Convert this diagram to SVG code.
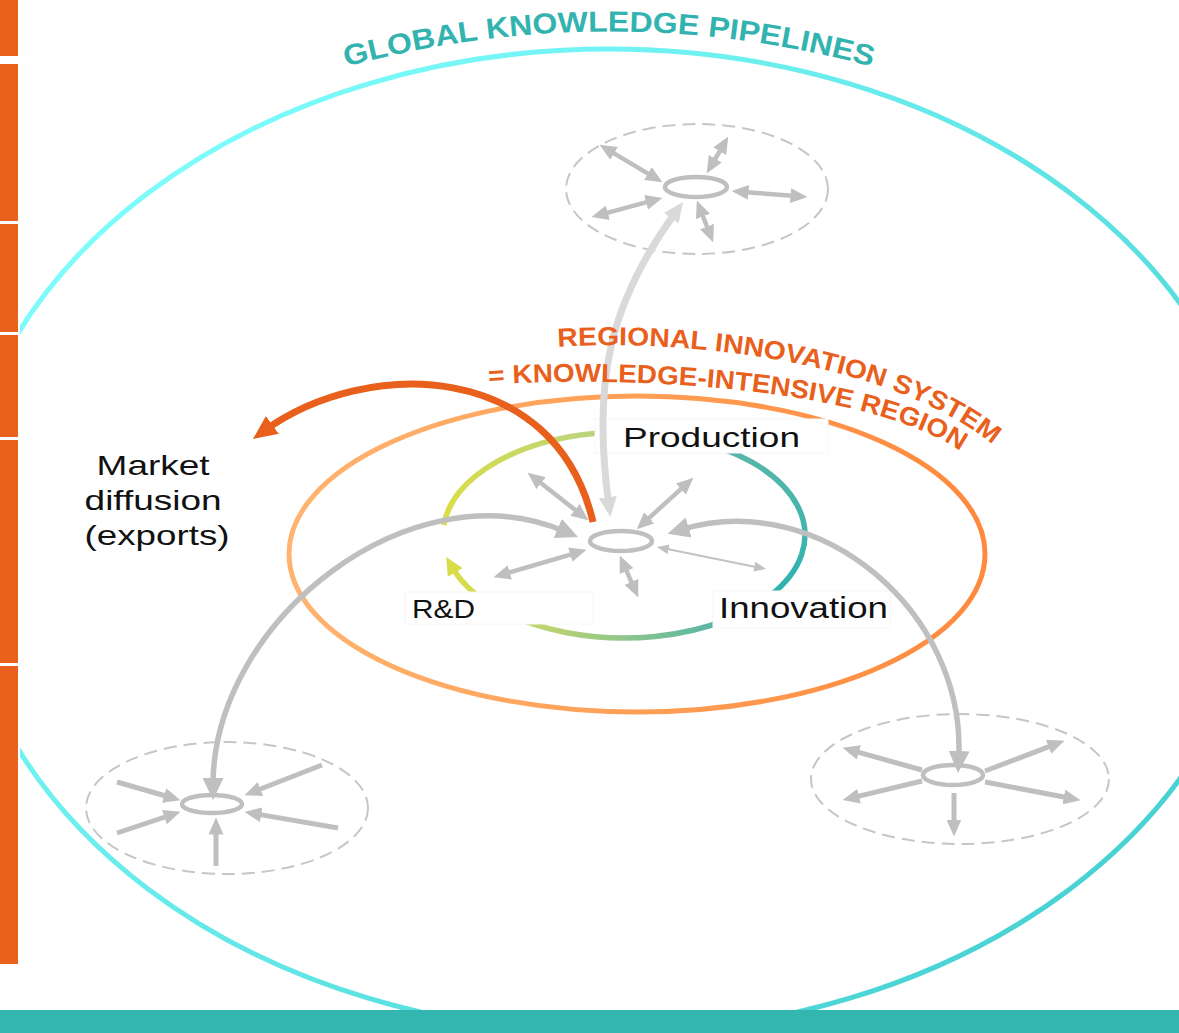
<svg xmlns="http://www.w3.org/2000/svg" width="1179" height="1033" viewBox="0 0 1179 1033">
  <defs>
    <linearGradient id="gPipe" gradientUnits="userSpaceOnUse" x1="100" y1="100" x2="1100" y2="1000">
      <stop offset="0" stop-color="#82ffff"/>
      <stop offset="1" stop-color="#44cfd0"/>
    </linearGradient>
    <linearGradient id="gRegion" gradientUnits="userSpaceOnUse" x1="289" y1="0" x2="985" y2="0">
      <stop offset="0" stop-color="#ffb470"/>
      <stop offset="1" stop-color="#ff893c"/>
    </linearGradient>
    <linearGradient id="gRD" gradientUnits="userSpaceOnUse" x1="443" y1="0" x2="608" y2="0">
      <stop offset="0" stop-color="#dadd48"/>
      <stop offset="1" stop-color="#b6d384"/>
    </linearGradient>
    <linearGradient id="gProd" gradientUnits="userSpaceOnUse" x1="0" y1="438" x2="0" y2="595">
      <stop offset="0" stop-color="#5cb7a6"/>
      <stop offset="1" stop-color="#2fb2b1"/>
    </linearGradient>
    <linearGradient id="gInno" gradientUnits="userSpaceOnUse" x1="452" y1="0" x2="728" y2="0">
      <stop offset="0" stop-color="#dadd48"/>
      <stop offset="0.35" stop-color="#bcd374"/>
      <stop offset="1" stop-color="#4fb4a9"/>
    </linearGradient>
    <clipPath id="clipStage"><rect x="20" y="0" width="1159" height="1010"/></clipPath>

    <!-- arrowheads -->
    <marker id="hs" viewBox="0 0 17 15" refX="5.5" refY="7.5" markerWidth="17" markerHeight="15" markerUnits="userSpaceOnUse" orient="auto-start-reverse">
      <path d="M0,0 L17,7.5 L0,15 z" fill="#bfbfbf"/>
    </marker>
    <marker id="ht" viewBox="0 0 12 10" refX="4" refY="5" markerWidth="12" markerHeight="10" markerUnits="userSpaceOnUse" orient="auto-start-reverse">
      <path d="M0,0 L12,5 L0,10 z" fill="#c2c2c2"/>
    </marker>
    <marker id="hl" viewBox="0 0 22 21" refX="7" refY="10.5" markerWidth="22" markerHeight="21" markerUnits="userSpaceOnUse" orient="auto-start-reverse">
      <path d="M0,0 L22,10.5 L0,21 z" fill="#bfbfbf"/>
    </marker>
    <marker id="hlg" viewBox="0 0 20 18" refX="6" refY="9" markerWidth="20" markerHeight="18" markerUnits="userSpaceOnUse" orient="auto-start-reverse">
      <path d="M0,0 L20,9 L0,18 z" fill="#d9d9d9"/>
    </marker>
    <marker id="ho" viewBox="0 0 24 22" refX="10" refY="11" markerWidth="24" markerHeight="22" markerUnits="userSpaceOnUse" orient="auto-start-reverse">
      <path d="M0,0 L24,11 L0,22 z" fill="#e8601c"/>
    </marker>
    <marker id="hy" viewBox="0 0 18 17" refX="6" refY="8.5" markerWidth="18" markerHeight="17" markerUnits="userSpaceOnUse" orient="auto-start-reverse">
      <path d="M0,0 L18,8.5 L0,17 z" fill="#d9dc48"/>
    </marker>

    <!-- baselines for curved titles -->
    <path id="titleArc" d="M 330 71 Q 609 -8 888 71"/>
    <path id="risArc1" d="M 555 347 C 690 338, 890 362, 992 444"/>
    <path id="risArc2" d="M 486 385 C 620 375, 870 386, 963 453"/>
  </defs>

  <style>
    .bar{fill:#ea611e}
    .halo{fill:none;stroke:#c6c6c6;stroke-width:2;stroke-dasharray:13 7}
    .hub{fill:#fff;stroke:#bfbfbf;stroke-width:4.5}
    .spoke{fill:none;stroke:#bfbfbf;stroke-width:4.5}
    .spoke5{fill:none;stroke:#bfbfbf;stroke-width:5}
    .thin{fill:none;stroke:#c2c2c2;stroke-width:2}
    .arc{fill:none;stroke:#bfbfbf;stroke-width:5.5}
    .cycle{fill:none;stroke-width:5.5}
    .box{fill:#fff;stroke:#f6f6f6;stroke-width:1}
    .lbl{font-family:"Liberation Sans",Arial,sans-serif;fill:#111}
    .ttl{font-family:"Liberation Sans",Arial,sans-serif;font-weight:bold}
  </style>

  <rect width="1179" height="1033" fill="#fff"/>

  <!-- side bands -->
  <g id="frame">
    <rect class="bar" x="0" y="0" width="18" height="56"/>
    <rect class="bar" x="0" y="64" width="18" height="157"/>
    <rect class="bar" x="0" y="224" width="18" height="108"/>
    <rect class="bar" x="0" y="335" width="18" height="102"/>
    <rect class="bar" x="0" y="440" width="18" height="223"/>
    <rect class="bar" x="0" y="666" width="18" height="298"/>
  </g>

  <!-- outer ring: global knowledge pipelines -->
  <g id="node-global-pipelines">
    <ellipse cx="609" cy="541" rx="652" ry="492" fill="none" stroke="url(#gPipe)" stroke-width="5" clip-path="url(#clipStage)"/>
    <text class="ttl" font-size="29" fill="#33b3b0">
      <textPath href="#titleArc" startOffset="50%" text-anchor="middle" textLength="532" lengthAdjust="spacingAndGlyphs">GLOBAL KNOWLEDGE PIPELINES</textPath>
    </text>
  </g>
  <rect x="0" y="1010" width="1179" height="23" fill="#33b5b0"/>

  <!-- distant regions -->
  <g id="node-region-top">
    <ellipse class="halo" cx="697" cy="189" rx="131" ry="65"/>
    <ellipse class="hub" cx="696" cy="187" rx="31" ry="10"/>
  </g>
  <g id="node-region-bottom-left">
    <ellipse class="halo" cx="227" cy="808" rx="141" ry="66"/>
    <ellipse class="hub" cx="212" cy="804" rx="30" ry="9"/>
  </g>
  <g id="node-region-bottom-right">
    <ellipse class="halo" cx="960" cy="779" rx="149" ry="65"/>
    <ellipse class="hub" cx="953" cy="775" rx="30" ry="10"/>
  </g>

  <!-- regional innovation system ring -->
  <g id="node-ris">
    <ellipse cx="637" cy="554" rx="348" ry="158" fill="none" stroke="url(#gRegion)" stroke-width="5"/>
  </g>

  <!-- production / innovation / R&D cycle -->
  <g id="cycle-flows">
    <path class="cycle" stroke="url(#gRD)" d="M443.8,525.1 A181,103 0 0 1 608.2,432.4"/>
    <path class="cycle" stroke="url(#gProd)" d="M685.9,438.2 A181,103 0 0 1 770.4,595.5"/>
    <path class="cycle" stroke="url(#gInno)" d="M727.8,619.4 A181,103 0 0 1 452.2,567.3" marker-end="url(#hy)"/>
  </g>

  <g id="node-production">
    <rect class="box" x="595" y="419" width="233" height="34"/>
    <text class="lbl" x="623" y="447" font-size="28" textLength="177" lengthAdjust="spacingAndGlyphs">Production</text>
  </g>
  <g id="node-rd">
    <rect class="box" x="405" y="592" width="188" height="32"/>
    <text class="lbl" x="412" y="618" font-size="25.5" textLength="63" lengthAdjust="spacingAndGlyphs">R&amp;D</text>
  </g>
  <g id="node-innovation">
    <rect class="box" x="713" y="591" width="177" height="37"/>
    <text class="lbl" x="719" y="618" font-size="30" textLength="169" lengthAdjust="spacingAndGlyphs">Innovation</text>
  </g>

  <g id="node-market">
    <text class="lbl" text-anchor="middle" font-size="28">
      <tspan x="157" y="475" textLength="113" lengthAdjust="spacingAndGlyphs">Market</tspan>
      <tspan x="157" y="510" textLength="137" lengthAdjust="spacingAndGlyphs">diffusion</tspan>
      <tspan x="157" y="545" textLength="145" lengthAdjust="spacingAndGlyphs">(exports)</tspan>
    </text>
  </g>

  <g id="connectors">
    <!-- pipelines between the region and the distant regions -->
    <path fill="none" stroke="#d9d9d9" stroke-width="7" d="M674.8,213.4 C610,303 592,380 608.6,503.1" marker-start="url(#hlg)" marker-end="url(#hlg)"/>
    <path class="arc" d="M213,785 C213,620 411,466 564.2,531.2" marker-start="url(#hl)" marker-end="url(#hl)"/>
    <path class="arc" d="M682,529.5 C820,488 966,612 958.75,758" marker-start="url(#hl)" marker-end="url(#hl)"/>
    <!-- market diffusion -->
    <path fill="none" stroke="#e8601c" stroke-width="7" d="M593,522 C555,360 367,356.6 264.3,430.8" marker-end="url(#ho)"/>

    <!-- local links around the central hub -->
    <path class="spoke" d="M536.7,479.8 L579.3,513.2" marker-start="url(#hs)" marker-end="url(#hs)"/>
    <path class="spoke" d="M684.9,485.4 L645.1,521.6" marker-start="url(#hs)" marker-end="url(#hs)"/>
    <path class="spoke" d="M504.5,573.9 L575.5,553.1" marker-start="url(#hs)" marker-end="url(#hs)"/>
    <path class="spoke" d="M624.4,566.1 L633.6,586.9" marker-start="url(#hs)" marker-end="url(#hs)"/>
    <path class="thin" d="M664.8,548.6 L758.2,567.4" marker-start="url(#ht)" marker-end="url(#ht)"/>

    <!-- top region links -->
    <path class="spoke" d="M609.4,150.6 L652.6,176.4" marker-start="url(#hs)" marker-end="url(#hs)"/>
    <path class="spoke" d="M722.5,146.5 L712.5,163.5" marker-start="url(#hs)" marker-end="url(#hs)"/>
    <path class="spoke" d="M602.6,214.1 L651.4,200.9" marker-start="url(#hs)" marker-end="url(#hs)"/>
    <path class="spoke" d="M743,191.9 L796,196.1" marker-start="url(#hs)" marker-end="url(#hs)"/>
    <path class="spoke" d="M701,211.3 L709,231.7" marker-start="url(#hs)" marker-end="url(#hs)"/>

    <!-- bottom-left region: inflows -->
    <path class="spoke5" d="M117,782 L169.4,797" marker-end="url(#hs)"/>
    <path class="spoke5" d="M117,833 L169.6,815.5" marker-end="url(#hs)"/>
    <path class="spoke5" d="M322,765 L255.3,791" marker-end="url(#hs)"/>
    <path class="spoke5" d="M338,828 L255.8,813.9" marker-end="url(#hs)"/>
    <path class="spoke5" d="M216,866 L216,829" marker-end="url(#hs)"/>

    <!-- bottom-right region: outflows -->
    <path class="spoke5" d="M922,770 L853.6,750.9" marker-end="url(#hs)"/>
    <path class="spoke5" d="M922,781 L853.7,797.4" marker-end="url(#hs)"/>
    <path class="spoke5" d="M985,771 L1053.7,744.9" marker-end="url(#hs)"/>
    <path class="spoke5" d="M985,782 L1069.2,798" marker-end="url(#hs)"/>
    <path class="spoke5" d="M954,793 L954,825" marker-end="url(#hs)"/>
  </g>

  <g id="node-hub">
    <ellipse class="hub" cx="621" cy="541" rx="31" ry="10"/>
  </g>

  <g id="ris-title" class="ttl" font-size="26" fill="#e8601c">
    <text>
      <textPath href="#risArc1" startOffset="3" textLength="454" lengthAdjust="spacingAndGlyphs">REGIONAL INNOVATION SYSTEM</textPath>
    </text>
    <text>
      <textPath href="#risArc2" startOffset="3" textLength="482" lengthAdjust="spacingAndGlyphs">= KNOWLEDGE-INTENSIVE REGION</textPath>
    </text>
  </g>
</svg>
